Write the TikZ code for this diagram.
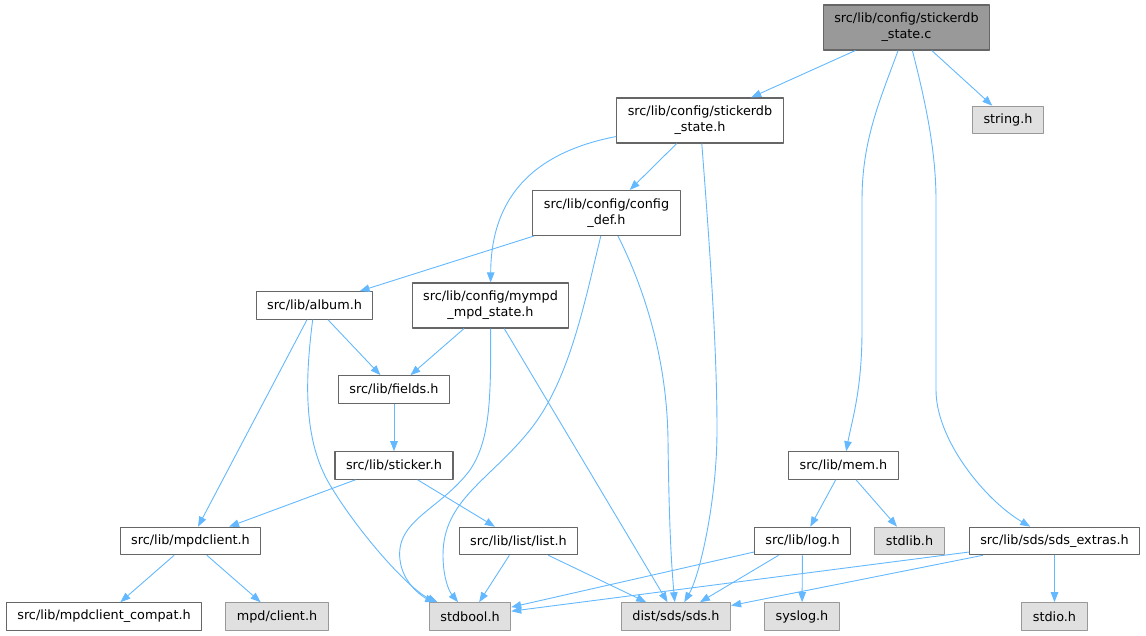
\documentclass[tikz,border=0pt]{standalone}
\usepackage{fontspec}
\setmainfont{DejaVu Sans}
\usepackage{tikz}
\usetikzlibrary{arrows.meta,shapes}
\definecolor{edgecol}{HTML}{63B8FF}
\definecolor{boxcol}{HTML}{666666}
\definecolor{syscol}{HTML}{999999}
\definecolor{sysfill}{HTML}{E0E0E0}
\definecolor{rootfill}{HTML}{999999}

\begin{document}
\begin{tikzpicture}[>={Triangle[length=10bp,width=7.5bp]},line join=bevel,
	file/.style={draw=boxcol,line width=1.1bp,fill=white,inner xsep=11bp,inner ysep=0pt,minimum height=27.5bp,align=center,font=\fontsize{12.8bp}{16bp}\selectfont},
	sysfile/.style={file,draw=syscol,fill=sysfill},
	twoline/.style={minimum height=45bp},
	dep/.style={->,draw=edgecol,line width=0.9bp}]
		%%
		\useasboundingbox (0bp,0bp) rectangle (1146bp,636bp);
		\node (stc) at (906.5bp,608.5bp) [file,twoline,fill=rootfill] {src/lib/config/stickerdb\\\_state.c};
		  \node (sth) at (700bp,515.5bp) [file,twoline] {src/lib/config/stickerdb\\\_state.h};
		  \node (strh) at (1008bp,516bp) [sysfile] {string.h};
		  \node (cfg) at (606.5bp,423bp) [file,twoline] {src/lib/config/config\\\_def.h};
		  \node (album) at (314.5bp,330.5bp) [file] {src/lib/album.h};
		  \node (mympd) at (490.5bp,330.5bp) [file,twoline] {src/lib/config/mympd\\\_mpd\_state.h};
		  \node (fields) at (394bp,246.5bp) [file] {src/lib/fields.h};
		  \node (sticker) at (394bp,170.5bp) [file] {src/lib/sticker.h};
		  \node (mem) at (843.5bp,170.5bp) [file] {src/lib/mem.h};
		  \node (mpdc) at (190.5bp,95bp) [file] {src/lib/mpdclient.h};
		  \node (list) at (518.5bp,95bp) [file] {src/lib/list/list.h};
		  \node (log) at (802.5bp,95bp) [file] {src/lib/log.h};
		  \node (stdlib) at (909.5bp,95bp) [sysfile] {stdlib.h};
		  \node (sdsx) at (1054.5bp,95bp) [file] {src/lib/sds/sds\_extras.h};
		  \node (compat) at (104bp,19.5bp) [file] {src/lib/mpdclient\_compat.h};
		  \node (mpdcl) at (277bp,19.5bp) [sysfile] {mpd/client.h};
		  \node (stdbool) at (470bp,19.5bp) [sysfile] {stdbool.h};
		  \node (sds) at (676bp,19.5bp) [sysfile] {dist/sds/sds.h};
		  \node (syslog) at (802bp,19.5bp) [sysfile] {syslog.h};
		  \node (stdio) at (1054.5bp,19.5bp) [sysfile] {stdio.h};
		  %
		  \draw [dep] (stc) -- (sth);
		  \draw [dep] (stc) -- (strh);
		  \draw [dep] (stc) ..controls (880bp,536bp) and (862bp,496bp)  .. (862bp,436bp) -- (862bp,306bp) .. controls (862bp,246bp) and (852bp,216bp)  .. (mem);
		  \draw [dep] (stc) ..controls (925bp,536bp) and (936bp,486bp)  .. (936bp,436bp) -- (936bp,246bp) .. controls (936bp,196bp) and (985bp,136bp)  .. (sdsx);
		  \draw [dep] (sth) -- (cfg);
		  \draw [dep] (sth) ..controls (520bp,481bp) and (491bp,426bp)  .. (mympd);
		  \draw [dep] (sth) ..controls (710bp,386bp) and (717bp,286bp)  .. (717bp,206bp) .. controls (717bp,136bp) and (700bp,61bp)  .. (sds);
		  \draw [dep] (cfg) -- (album);
		  \draw [dep] (cfg) ..controls (645bp,346bp) and (667bp,276bp)  .. (668bp,196bp) .. controls (669bp,116bp) and (671bp,76bp)  .. (sds);
		  \draw [dep] (cfg) ..controls (585bp,336bp) and (570bp,256bp)  .. (530bp,206bp) .. controls (490bp,156bp) and (443bp,136bp)  .. (443bp,81bp) .. controls (443bp,61bp) and (448bp,46bp)  .. (stdbool);
		  \draw [dep] (album) -- (fields);
		  \draw [dep] (album) -- (mpdc);
		  \draw [dep] (album) ..controls (305bp,256bp) and (303bp,196bp)  .. (330bp,151bp) .. controls (360bp,101bp) and (410bp,46bp)  .. (stdbool);
		  \draw [dep] (mympd) -- (fields);
		  \draw [dep] (mympd) -- (sds);
		  \draw [dep] (mympd) ..controls (491bp,236bp) and (490bp,196bp)  .. (470bp,166bp) .. controls (440bp,126bp) and (395bp,116bp)  .. (400bp,76bp) .. controls (403bp,51bp) and (425bp,38bp)  .. (stdbool);
		  \draw [dep] (fields) -- (sticker);
		  \draw [dep] (sticker) -- (mpdc);
		  \draw [dep] (sticker) -- (list);
		  \draw [dep] (mpdc) -- (compat);
		  \draw [dep] (mpdc) -- (mpdcl);
		  \draw [dep] (list) -- (stdbool);
		  \draw [dep] (list) -- (sds);
		  \draw [dep] (mem) -- (log);
		  \draw [dep] (mem) -- (stdlib);
		  \draw [dep] (log) -- (stdbool);
		  \draw [dep] (log) -- (sds);
		  \draw [dep] (log) -- (syslog);
		  \draw [dep] (sdsx) -- (stdbool);
		  \draw [dep] (sdsx) -- (sds);
		  \draw [dep] (sdsx) -- (stdio);
		%
	\end{tikzpicture}
\end{document}
